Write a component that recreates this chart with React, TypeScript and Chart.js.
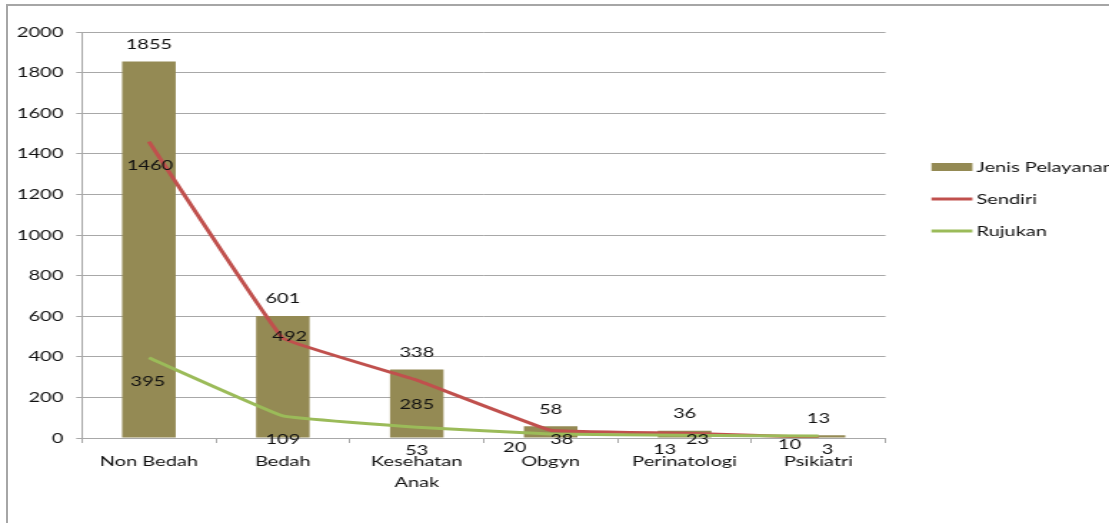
import React, { useEffect, useRef } from "react";
import { Chart, registerables } from "chart.js";

Chart.register(...registerables);

// ---- data ----
const categories: (string | string[])[] = [
  "Non Bedah",
  "Bedah",
  ["Kesehatan", "Anak"],
  "Obgyn",
  "Perinatologi",
  "Psikiatri",
];
const jenisPelayanan = [1855, 601, 338, 58, 36, 13];
const sendiri = [1460, 492, 285, 38, 23, 3];
const rujukan = [395, 109, 53, 20, 13, 10];
const yMin = 0;
const yMax = 2000;
const yStep = 200;
const seriesNames = ["Jenis Pelayanan", "Sendiri", "Rujukan"];

// ---- layout / style ----
const CW = 1109;
const CH = 525;
const S = 1.43; // horizontal stretch of the reference picture
const IW = Math.round(CW / S);
const FONT = 'Lato, "Open Sans", sans-serif';
const FS = 14;
const TEXT = "#111111";
const GRID = "#a8a8a8";
const COLORS = ["#948a54", "#c0504d", "#9bbb59"];

// label offsets in screen pixels [dx, dy] from each mark's anchor
const labelOffsets: number[][][] = [
  [[0, -17], [0, -18], [0, -17], [0, -17], [0, -17], [0, -17]],
  [[1, 24], [7, -2], [0, 24], [11, 9], [13, 6], [9, 12]],
  [[-1, 24], [0, 24], [0, 23], [-36, 14], [-20, 14], [-29, 9]],
];

const valueLabels = {
  id: "valueLabels",
  afterDatasetsDraw(chart: any) {
    const ctx = chart.ctx;
    ctx.save();
    ctx.font = `${FS}px ${FONT}`;
    ctx.fillStyle = TEXT;
    ctx.textAlign = "center";
    ctx.textBaseline = "middle";
    chart.data.datasets.forEach((ds: any, di: number) => {
      const meta = chart.getDatasetMeta(di);
      meta.data.forEach((el: any, i: number) => {
        const [dx, dy] = labelOffsets[di][i];
        ctx.fillText(String(ds.data[i]), el.x + dx / S, el.y + dy);
      });
    });
    ctx.restore();
  },
};

const customLegend = {
  id: "customLegend",
  afterDraw(chart: any) {
    const ctx = chart.ctx;
    const ys = [167, 199, 231];
    const x0 = 932 / S;
    const x1 = 973 / S;
    const xt = 977 / S;
    ctx.save();
    ctx.font = `${FS}px ${FONT}`;
    ctx.textAlign = "left";
    ctx.textBaseline = "middle";
    chart.data.datasets.forEach((ds: any, i: number) => {
      const y = ys[i];
      if (ds.type === "bar" || !ds.type) {
        ctx.fillStyle = ds.backgroundColor;
        ctx.fillRect(x0, y - 4, x1 - x0, 8);
      } else {
        ctx.strokeStyle = ds.borderColor;
        ctx.lineWidth = 3;
        ctx.beginPath();
        ctx.moveTo(x0, y);
        ctx.lineTo(x1, y);
        ctx.stroke();
      }
      ctx.fillStyle = TEXT;
      ctx.fillText(ds.label, xt, y);
    });
    ctx.restore();
  },
};

export default function App() {
  const ref = useRef<HTMLCanvasElement>(null);

  useEffect(() => {
    const canvas = ref.current;
    if (!canvas) return;
    const chart = new Chart(canvas, {
      type: "bar",
      data: {
        labels: categories as any,
        datasets: [
          {
            type: "bar",
            label: seriesNames[0],
            data: jenisPelayanan,
            backgroundColor: COLORS[0],
            borderWidth: 0,
            barPercentage: 0.4,
            categoryPercentage: 1,
            order: 10,
          } as any,
          {
            type: "line",
            label: seriesNames[1],
            data: sendiri,
            borderColor: COLORS[1],
            backgroundColor: COLORS[1],
            borderWidth: 3,
            pointRadius: 0,
            tension: 0.06,
            order: 2,
          },
          {
            type: "line",
            label: seriesNames[2],
            data: rujukan,
            borderColor: COLORS[2],
            backgroundColor: COLORS[2],
            borderWidth: 3,
            pointRadius: 0,
            tension: 0.08,
            order: 1,
          },
        ],
      },
      options: {
        responsive: false,
        devicePixelRatio: 1,
        animation: false,
        layout: { padding: { top: 32, left: 0, right: IW - 886 / S, bottom: 0 } },
        plugins: {
          legend: { display: false },
          tooltip: { enabled: false },
        },
        scales: {
          x: {
            offset: true,
            grid: {
              offset: true,
              drawOnChartArea: false,
              drawTicks: true,
              tickLength: 5,
              color: GRID,
            },
            border: { color: GRID, width: 1 },
            ticks: {
              font: { family: FONT, size: FS, lineHeight: 1.5 },
              color: TEXT,
              padding: 8,
              maxRotation: 0,
              minRotation: 0,
              autoSkip: false,
            },
            afterFit: (s: any) => {
              s.height = CH - 438;
            },
          },
          y: {
            min: yMin,
            max: yMax,
            ticks: {
              stepSize: yStep,
              font: { family: FONT, size: FS },
              color: TEXT,
              padding: 9,
              callback: (v: any) => String(v),
            },
            grid: { color: GRID, tickLength: 4 },
            border: { color: GRID, width: 1 },
            afterFit: (s: any) => {
              s.width = 82 / S;
            },
          },
        },
      },
      plugins: [valueLabels, customLegend],
    });
    return () => chart.destroy();
  }, []);

  return (
    <div
      style={{
        position: "absolute",
        left: 0,
        top: 0,
        width: CW,
        height: CH,
        overflow: "hidden",
        background: "#ffffff",
      }}
    >
      <div
        style={{
          position: "absolute",
          left: 6,
          top: 4,
          width: CW - 6,
          height: 519,
          borderTop: "2px solid #a6a6a6",
          borderLeft: "2px solid #a6a6a6",
          boxSizing: "border-box",
        }}
      />
      <canvas
        ref={ref}
        width={IW}
        height={CH}
        style={{ position: "absolute", left: 0, top: 0, width: CW, height: CH }}
      />
    </div>
  );
}
